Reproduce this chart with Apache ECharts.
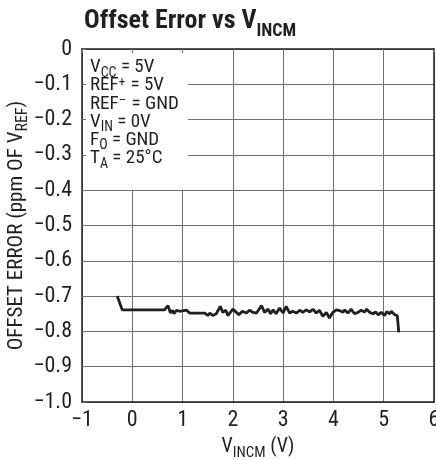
<!DOCTYPE html>
<html>
<head>
<meta charset="utf-8">
<script src="https://cdn.jsdelivr.net/npm/echarts@6/dist/echarts.min.js"></script>
<style>
  html, body { margin: 0; padding: 0; background: #fff; }
  #chart { width: 436px; height: 460px; }
</style>
</head>
<body>
<div id="chart"></div>
<script>
// V_INCM (V)
const vincm = [
  -0.30, -0.20, 0.64, 0.71, 0.76, 0.80, 0.83, 0.88, 0.94, 1.08,
  1.14, 1.44, 1.50, 1.54, 1.60, 1.67, 1.75, 1.80, 1.86, 1.90,
  2.00, 2.07, 2.12, 2.19, 2.27, 2.33, 2.40, 2.47, 2.57, 2.63,
  2.70, 2.75, 2.80, 2.86, 2.93, 3.00, 3.06, 3.13, 3.19, 3.26,
  3.33, 3.39, 3.46, 3.53, 3.59, 3.66, 3.72, 3.79, 3.86, 3.92,
  3.99, 4.06, 4.12, 4.19, 4.22, 4.29, 4.35, 4.42, 4.49, 4.55,
  4.62, 4.66, 4.72, 4.79, 4.84, 4.89, 4.95, 5.02, 5.06, 5.12,
  5.15, 5.22, 5.27, 5.30
];
// offset error (ppm of VREF)
const offsetErr = [
  -0.700, -0.739, -0.739, -0.727, -0.748, -0.740, -0.750, -0.740, -0.743, -0.740,
  -0.748, -0.748, -0.755, -0.748, -0.755, -0.750, -0.729, -0.746, -0.740, -0.755,
  -0.737, -0.746, -0.753, -0.743, -0.748, -0.740, -0.746, -0.748, -0.727, -0.746,
  -0.737, -0.750, -0.739, -0.750, -0.734, -0.748, -0.729, -0.748, -0.743, -0.748,
  -0.740, -0.746, -0.739, -0.745, -0.737, -0.748, -0.740, -0.757, -0.746, -0.762,
  -0.746, -0.739, -0.741, -0.746, -0.739, -0.748, -0.737, -0.750, -0.746, -0.740,
  -0.745, -0.737, -0.746, -0.750, -0.745, -0.753, -0.746, -0.755, -0.744, -0.750,
  -0.743, -0.753, -0.755, -0.803
];
// conditions box: [main, sub/sup, rest, kind]
const conditions = [
  ['V', 'CC', ' = 5V', 'sub'],
  ['REF', '+', ' = 5V', 'sup'],
  ['REF', '\u2013', ' = GND', 'sup'],
  ['V', 'IN', ' = 0V', 'sub'],
  ['F', 'O', ' = GND', 'sub'],
  ['T', 'A', ' = 25\u00b0C', 'sub']
];

const FONT = "'Roboto Condensed', Roboto, 'Liberation Sans', sans-serif";
const INK = '#231f20';
const GRID = '#707070';

const minus = (s) => s.replace('-', '\u2212');

const chart = echarts.init(document.getElementById('chart'), null, { renderer: 'canvas' });

// rich styles for text with subscripts: every token is lh tall so the line box stays fixed
const richText = (size, subSize, lh, drop) => ({
  m: { fontFamily: FONT, fontSize: size, lineHeight: lh, verticalAlign: 'top', color: INK, fill: INK },
  sub: { fontFamily: FONT, fontSize: subSize, lineHeight: lh - drop, padding: [drop, 0, 0, 0], verticalAlign: 'top', color: INK, fill: INK },
  sup: { fontFamily: FONT, fontSize: subSize - 1, lineHeight: lh - 10, padding: [0, 1, 10, 0], verticalAlign: 'top', color: INK, fill: INK }
});

const boxText = conditions.map((c) => `{m|${c[0]}}{${c[3]}|${c[1]}}{m|${c[2]}}`).join('\n');

const option = {
  animation: false,
  title: {
    text: '{m|Offset Error vs V}{s|INCM}',
    left: 79,
    top: 3,
    textStyle: {
      rich: {
        m: { fontFamily: FONT, fontSize: 26, fontWeight: 'bold', lineHeight: 30, verticalAlign: 'top', color: INK },
        s: { fontFamily: FONT, fontSize: 18, fontWeight: 'bold', lineHeight: 19, padding: [14, 0, 0, 0], verticalAlign: 'top', color: INK }
      }
    }
  },
  grid: { left: 82, top: 49, right: 2, bottom: 58, outerBoundsMode: 'none', containLabel: false },
  xAxis: [
    {
      type: 'value', position: 'bottom', min: -1, max: 6, interval: 1, z: 0,
      name: '{m|V}{sub|INCM}{m| (V)}',
      nameLocation: 'middle', nameGap: 35, nameMoveOverlap: false,
      nameTextStyle: { rich: richText(20, 15, 22, 9) },
      axisLine: { show: true, onZero: false, lineStyle: { color: INK, width: 1.5 } },
      axisTick: { show: false },
      axisLabel: { fontFamily: FONT, fontSize: 22, color: INK, margin: 7, formatter: (v) => minus(String(v)) },
      splitLine: { show: true, lineStyle: { color: GRID, width: 1 } }
    },
    {
      type: 'value', position: 'top', min: -1, max: 6, interval: 1, z: 5,
      axisLine: { show: true, onZero: false, lineStyle: { color: INK, width: 1.5 } },
      axisTick: { show: true, inside: true, length: 4, lineStyle: { color: GRID } },
      axisLabel: { show: false },
      splitLine: { show: false }
    }
  ],
  yAxis: [
    {
      type: 'value', position: 'left', min: -1, max: 0, interval: 0.1, z: 5,
      name: '{m|OFFSET ERROR (ppm OF V}{sub|REF}{m|)}',
      nameLocation: 'middle', nameRotate: 90, nameGap: 52, nameMoveOverlap: false,
      nameTextStyle: { rich: richText(21, 16, 24, 9) },
      axisLine: { show: true, onZero: false, lineStyle: { color: INK, width: 1.5 } },
      axisTick: { show: true, inside: true, length: 4, lineStyle: { color: GRID } },
      axisLabel: {
        fontFamily: FONT, fontSize: 22, color: INK, margin: 10,
        formatter: (v) => (Math.abs(v) < 1e-9 ? '0' : minus(v.toFixed(1)))
      },
      splitLine: { show: false }
    },
    {
      type: 'value', position: 'right', min: -1, max: 0, interval: 0.1, z: 0,
      axisLine: { show: true, onZero: false, lineStyle: { color: INK, width: 1.5 } },
      axisTick: { show: false },
      axisLabel: { show: false },
      splitLine: { show: true, lineStyle: { color: GRID, width: 1 } }
    }
  ],
  graphic: [
    {
      type: 'rect',
      z: 1,
      shape: { x: 83, y: 50, width: 105, height: 140 },
      style: { fill: '#fff' }
    },
    {
      type: 'text',
      left: 90,
      top: 58,
      z: 10,
      style: { text: boxText, rich: richText(19, 14, 18.2, 8) }
    }
  ],
  series: [
    {
      type: 'line',
      xAxisIndex: 0,
      yAxisIndex: 0,
      data: vincm.map((x, i) => [x, offsetErr[i]]),
      showSymbol: false,
      lineStyle: { color: INK, width: 2.8 },
      z: 3
    }
  ]
};

chart.setOption(option);
</script>
</body>
</html>
